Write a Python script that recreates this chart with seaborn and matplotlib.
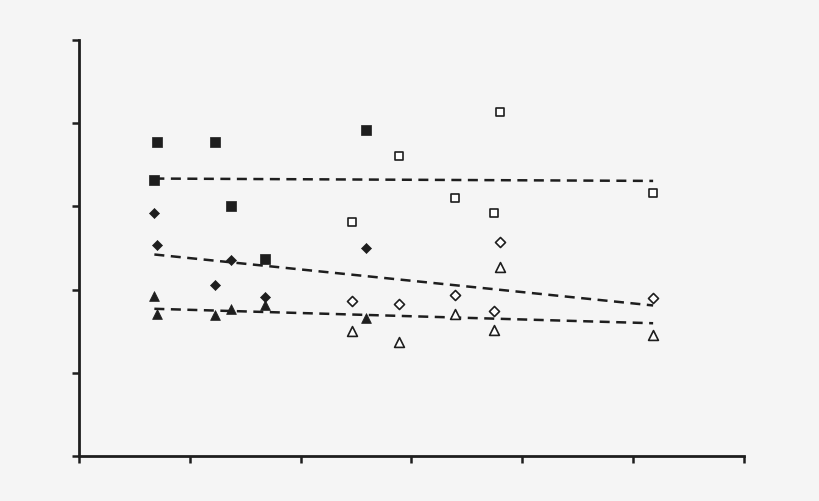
import numpy as np
import pandas as pd
import matplotlib
matplotlib.use("Agg")
import matplotlib.pyplot as plt
import seaborn as sns

# x positions of the two groups
x_filled = [0.70, 1.23, 0.68, 1.37, 1.68, 2.59]
x_open = [2.46, 2.89, 3.39, 3.74, 3.80, 5.18]

sq_filled = [3.77, 3.77, 3.32, 3.01, 2.37, 3.92]
sq_open = [2.81, 3.60, 3.10, 2.92, 4.13, 3.16]

x_filled_d = [0.68, 0.70, 1.23, 1.37, 1.68, 2.59]
dm_filled = [2.92, 2.54, 2.06, 2.36, 1.91, 2.50]
dm_open = [1.86, 1.83, 1.94, 1.74, 2.57, 1.90]

x_filled_t = [0.68, 0.70, 1.23, 1.37, 1.68, 2.59]
tr_filled = [1.92, 1.71, 1.70, 1.77, 1.81, 1.66]
tr_open = [1.50, 1.37, 1.71, 1.52, 2.27, 1.46]

sns.set_theme(style="ticks")
bg = "#f5f5f5"
fig = plt.figure(figsize=(8.2, 5.02), dpi=100, facecolor=bg)
ax = fig.add_axes([79 / 820, 45 / 502, 665 / 820, 416 / 502])
ax.set_facecolor(bg)

ink = "#1e1e1e"
groups = [
    ("s", x_filled, sq_filled, x_open, sq_open, 48, 38),
    ("D", x_filled_d, dm_filled, x_open, dm_open, 26, 26),
    ("^", x_filled_t, tr_filled, x_open, tr_open, 50, 50),
]
for mk, xf, yf, xo, yo, sf, so in groups:
    sns.scatterplot(x=xf, y=yf, marker=mk, s=sf, color=ink, edgecolor=ink,
                    linewidth=0.5, ax=ax, zorder=3)
    sns.scatterplot(x=xo, y=yo, marker=mk, s=so, facecolor="white",
                    edgecolor=ink, linewidth=1.2, ax=ax, zorder=3)
    df = pd.DataFrame({"x": list(xf) + list(xo), "y": list(yf) + list(yo)})
    sns.regplot(data=df, x="x", y="y", scatter=False, ci=None, ax=ax,
                line_kws=dict(color=ink, linestyle=(0, (4, 2.6)), linewidth=1.8),
                truncate=True)

ax.set_xlim(0, 6)
ax.set_ylim(0, 5)
ax.set_xticks(np.arange(0, 7, 1))
ax.set_yticks(np.arange(0, 6, 1))
ax.set_xticklabels([])
ax.set_yticklabels([])
ax.set_xlabel("")
ax.set_ylabel("")
for s in ["top", "right"]:
    ax.spines[s].set_visible(False)
for s in ["left", "bottom"]:
    ax.spines[s].set_linewidth(2)
    ax.spines[s].set_color(ink)
ax.tick_params(axis="both", length=5, width=1.8, color=ink, direction="out")

fig.savefig("out.png", dpi=100, facecolor=bg)
